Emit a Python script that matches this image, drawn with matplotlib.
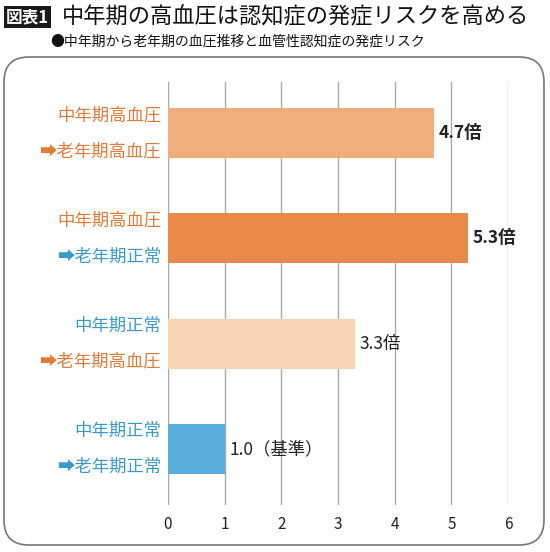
import matplotlib.pyplot as plt
from matplotlib.patches import FancyBboxPatch

plt.rcParams['font.family'] = ['Noto Sans CJK JP', 'DejaVu Sans']

line1 = ['中年期高血圧', '中年期高血圧', '中年期正常', '中年期正常']
line2 = ['老年期高血圧', '老年期正常', '老年期高血圧', '老年期正常']
values = [4.7, 5.3, 3.3, 1.0]
value_labels = ['4.7倍', '5.3倍', '3.3倍', '1.0（基準）']
bold = [True, True, False, False]
bar_colors = ['#EFAD7C', '#E98A4B', '#F7D4B6', '#58ADDB']
orange, blue = '#E07B39', '#3A9BCB'
c1 = [orange, orange, blue, blue]
c2 = [orange, blue, orange, blue]
ticks = [0, 1, 2, 3, 4, 5, 6]

fig = plt.figure(figsize=(5.5, 5.52), dpi=100)
W, H = 550, 552

# frame, behind the axes
box = FancyBboxPatch((4 / W, 7 / H), 540 / W, 488 / H, boxstyle='round,pad=0,rounding_size=0.045',
                     transform=fig.transFigure, fc='white', ec='#777777', lw=1.2, zorder=-5)
fig.patches.append(box)

# title
fig.text(6 / W, 1 - 17 / H, '図表1', color='white', fontsize=12, fontweight='bold', va='center',
         bbox=dict(fc='#1a1a1a', ec='none', pad=1.5))
fig.text(62 / W, 1 - 17 / H, '中年期の高血圧は認知症の発症リスクを高める', fontsize=16, va='center', color='#111111')
fig.text(50 / W, 1 - 42 / H, '●中年期から老年期の血圧推移と血管性認知症の発症リスク', fontsize=10, va='center', color='#111111')

ax = fig.add_axes([168 / W, 1 - 505 / H, 340 / W, 423 / H])
ax.patch.set_alpha(0)
pos = list(range(len(values)))
ax.barh(pos, values, height=0.475, color=bar_colors, zorder=3)
ax.set_xlim(0, 6)
ax.set_ylim(3.53, -0.485)
ax.set_xticks(ticks)
ax.set_xticklabels([str(t) for t in ticks], fontsize=11, color='#222222')
ax.tick_params(axis='x', length=0, pad=8)
ax.set_yticks([])
for s in ax.spines.values():
    s.set_visible(False)
for t in ticks:
    ax.axvline(t, color='#aaaaaa', lw=1, zorder=1)

for p, v, lab, b in zip(pos, values, value_labels, bold):
    ax.text(v + 0.08, p, lab, va='center', ha='left', fontsize=12.5,
            fontweight='bold' if b else 'normal', color='#222222', zorder=4)
for p, a, bb, ca, cb in zip(pos, line1, line2, c1, c2):
    ax.text(-0.12, p - 0.17, a, ha='right', va='center', fontsize=12.5, color=ca)
    ax.text(-0.12, p + 0.17, '➡' + bb, ha='right', va='center', fontsize=12.5, color=cb)

fig.savefig('out.png', dpi=100)
